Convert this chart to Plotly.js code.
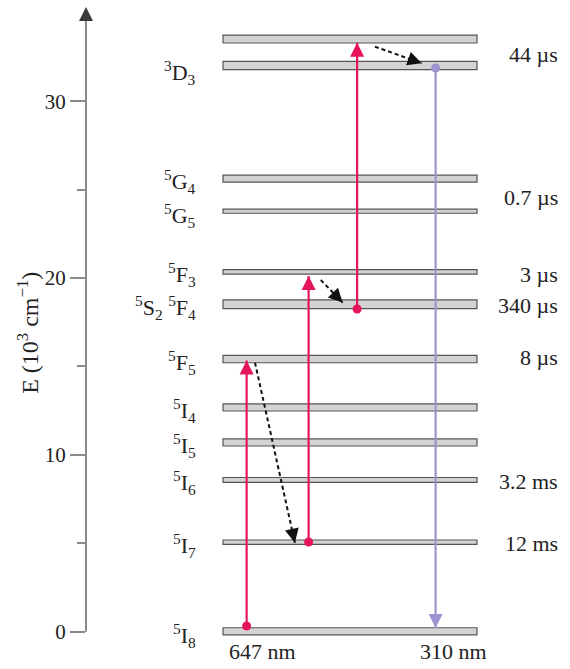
<!DOCTYPE html>
<html><head><meta charset="utf-8">
<script src="https://cdn.plot.ly/plotly-3.0.1.min.js"></script>
<style>html,body{margin:0;padding:0;background:#fff}</style>
</head><body><div id="chart" style="width:570px;height:669px"></div>
<script>
// ---- data ----
const levelNames = ['', '<sup>3</sup>D<sub>3</sub>', '<sup>5</sup>G<sub>4</sub>', '<sup>5</sup>G<sub>5</sub>',
  '<sup>5</sup>F<sub>3</sub>', '<sup>5</sup>S<sub>2</sub> <sup>5</sup>F<sub>4</sub>', '<sup>5</sup>F<sub>5</sub>',
  '<sup>5</sup>I<sub>4</sub>', '<sup>5</sup>I<sub>5</sub>', '<sup>5</sup>I<sub>6</sub>', '<sup>5</sup>I<sub>7</sub>',
  '<sup>5</sup>I<sub>8</sub>'];
const levelEnergy = [33.52, 32.02, 25.62, 23.78, 20.35, 18.52, 15.42, 12.68, 10.70, 8.58, 5.06, 0.02];
const levelSpread = [0.45, 0.47, 0.40, 0.23, 0.25, 0.49, 0.42, 0.40, 0.40, 0.28, 0.25, 0.40];
const lifetimeText = ['44 µs', '0.7 µs', '3 µs', '340 µs', '8 µs', '3.2 ms', '12 ms'];
const lifetimeEnergy = [32.62, 24.53, 20.18, 18.47, 15.48, 8.52, 5.00];
const pumpX = [0.093, 0.337, 0.528];
const pumpFrom = [0.32, 5.07, 18.25];
const pumpTo = [15.33, 20.12, 33.31];
const relaxX0 = [0.126, 0.385, 0.598];
const relaxX1 = [0.283, 0.471, 0.782];
const relaxFrom = [15.21, 19.89, 33.09];
const relaxTo = [5.03, 18.61, 32.15];
const emitX = [0.837];
const emitFrom = [31.88];
const emitTo = [0.21];
const wavelengthText = ['647 nm', '310 nm'];
const wavelengthX = [0.154, 0.909];
const yTickVals = [0, 10, 20, 30];
const yMinorTickVals = [5, 15, 25];

// ---- styles ----
const FONT = 'Liberation Serif, Times New Roman, serif';
const TXT = '#222';
const PUMP = '#e6145a';
const EMIT = '#9c94d0';
const AXIS = '#8a8a8a';
const W = 570, H = 669, ML = 86, MR = 0, MT = 4, MB = 11;
const XR = [-0.5394, 1.3661], YR = [-1.49, 35.50];
const pxX = (W - ML - MR) / (XR[1] - XR[0]);
const pxY = (H - MT - MB) / (YR[1] - YR[0]);
const labelShift = [0, -7, -3, -4, -3, -3, -3, -3, -3, -3, -3, -4];

const traces = [];
const annotations = [];
traces.push({
  type: 'bar', orientation: 'h', y: levelEnergy, x: levelEnergy.map(() => 1), base: 0,
  width: levelSpread, marker: {color: '#d3d3d3', line: {color: '#555', width: 1.2}},
  hoverinfo: 'skip', showlegend: false
});

function arrow(x0, y0, x1, y1, color, dash) {
  traces.push({type: 'scatter', mode: 'lines', x: [x0, x1], y: [y0, y1],
    line: {color: color, width: dash ? 2 : 2.2, dash: dash || 'solid'}, hoverinfo: 'skip', showlegend: false});
  const dxp = (x0 - x1) * pxX, dyp = (y0 - y1) * pxY;
  const L = Math.hypot(dxp, dyp);
  const f = Math.min(1, 15 / L);
  annotations.push({x: x1, y: y1, ax: x1 + (x0 - x1) * f, ay: y1 + (y0 - y1) * f,
    xref: 'x', yref: 'y', axref: 'x', ayref: 'y', text: '', showarrow: true,
    arrowhead: 2, arrowsize: 1.4, arrowwidth: 2, arrowcolor: color, standoff: 0});
}
pumpX.forEach((px, i) => arrow(px, pumpFrom[i], px, pumpTo[i], PUMP));
relaxX0.forEach((rx, i) => arrow(rx, relaxFrom[i], relaxX1[i], relaxTo[i], '#111', '4px,3px'));
emitX.forEach((ex, i) => arrow(ex, emitFrom[i], ex, emitTo[i], EMIT));
traces.push({type: 'scatter', mode: 'markers', x: pumpX, y: pumpFrom,
  marker: {color: PUMP, size: 9, line: {width: 0}}, hoverinfo: 'skip', showlegend: false});
traces.push({type: 'scatter', mode: 'markers', x: emitX, y: emitFrom,
  marker: {color: EMIT, size: 9, line: {width: 0}}, hoverinfo: 'skip', showlegend: false});

levelNames.forEach((n, i) => {
  if (!n) return;
  annotations.push({x: 0, y: levelEnergy[i], xref: 'x', yref: 'y', text: n, showarrow: false,
    xanchor: 'right', yanchor: 'middle', xshift: -25, yshift: labelShift[i],
    font: {family: FONT, size: 22, color: TXT}});
});
lifetimeText.forEach((t, i) => annotations.push({x: 1, y: lifetimeEnergy[i], xref: 'x', yref: 'y', text: t,
  showarrow: false, xanchor: 'right', yanchor: 'middle', xshift: 83, font: {family: FONT, size: 22, color: TXT}}));
wavelengthText.forEach((t, i) => annotations.push({x: wavelengthX[i], y: 0, xref: 'x', yref: 'y', text: t,
  showarrow: false, xanchor: 'center', yanchor: 'middle', yshift: -20, font: {family: FONT, size: 22, color: TXT}}));
annotations.push({x: 0, y: 16.9, xref: 'paper', yref: 'y', text: 'E (10<sup>3</sup> cm<sup>−1</sup>)',
  textangle: -90, showarrow: false, xanchor: 'center', yanchor: 'middle', xshift: -58,
  font: {family: FONT, size: 24, color: TXT}});

const shapes = [
  {type: 'line', xref: 'paper', yref: 'y', x0: 0, x1: 0, y0: 0, y1: 34.6, line: {color: AXIS, width: 2}},
  {type: 'path', xref: 'paper', yref: 'y', xsizemode: 'pixel', ysizemode: 'pixel', xanchor: 0, yanchor: 34.54,
   path: 'M-7,0 L7,0 L0,14 Z', fillcolor: '#3a3a3a', line: {width: 0}}
];

const layout = {
  width: W, height: H,
  margin: {l: ML, r: MR, t: MT, b: MB, pad: 0},
  paper_bgcolor: '#fff', plot_bgcolor: 'rgba(0,0,0,0)',
  showlegend: false, bargap: 0,
  xaxis: {range: XR, visible: false, fixedrange: true},
  yaxis: {range: YR, showgrid: false, zeroline: false, showline: false,
    tickmode: 'array', tickvals: yTickVals, ticktext: yTickVals.map(String),
    ticks: 'outside', ticklen: 15, tickwidth: 2, tickcolor: AXIS,
    tickfont: {family: FONT, size: 21, color: TXT},
    minor: {tickmode: 'array', tickvals: yMinorTickVals, ticks: 'outside', ticklen: 8, tickwidth: 2, tickcolor: AXIS},
    fixedrange: true},
  annotations: annotations, shapes: shapes
};
Plotly.newPlot('chart', traces, layout, {displayModeBar: false, staticPlot: true});
</script></body></html>
